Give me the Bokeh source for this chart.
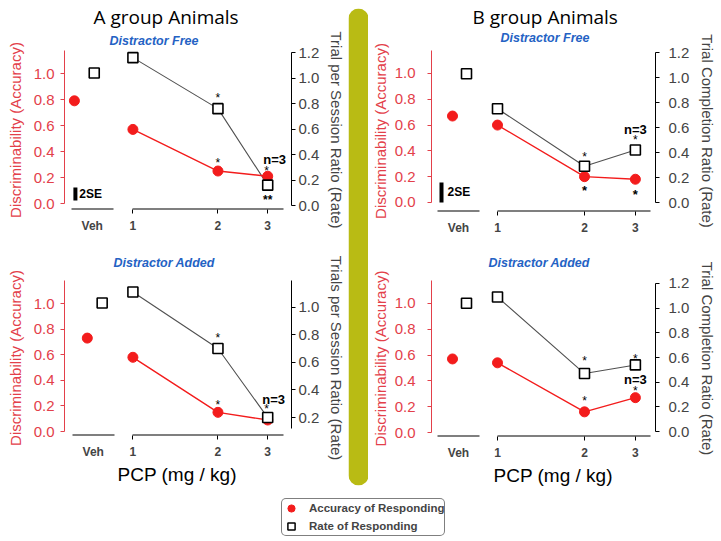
from bokeh.plotting import figure
from bokeh.models import (Range1d, LinearAxis, LogAxis, LogScale, FixedTicker, PrintfTickFormatter,
                          ColumnDataSource, Legend, LegendItem, BoxAnnotation, Title, Grid)
from bokeh.transform import dodge
from bokeh.layouts import row, column
from bokeh.embed import file_html
from bokeh.resources import INLINE
from bokeh.core.properties import value

# ---------------- data ----------------
doses = [1, 2, 3]                      # PCP (mg / kg)
veh_x = [0]                            # vehicle group on its own short axis
veh_label = "Veh"
acc_ticks = [0.0, 0.2, 0.4, 0.6, 0.8, 1.0]
rate_ticks = [0.0, 0.2, 0.4, 0.6, 0.8, 1.0, 1.2]
rate_ticks_from02 = [0.2, 0.4, 0.6, 0.8, 1.0, 1.2]

# A group, Distractor Free
a_free_acc_veh = 0.79
a_free_rate_veh = 1.04
a_free_acc = [0.57, 0.25, 0.21]
a_free_rate = [1.16, 0.76, 0.16]
# A group, Distractor Added
a_added_acc_veh = 0.73
a_added_rate_veh = 1.03
a_added_acc = [0.58, 0.15, 0.09]
a_added_rate = [1.11, 0.70, 0.20]
# B group, Distractor Free
b_free_acc_veh = 0.67
b_free_rate_veh = 1.03
b_free_acc = [0.60, 0.20, 0.18]
b_free_rate = [0.75, 0.29, 0.42]
# B group, Distractor Added
b_added_acc_veh = 0.57
b_added_rate_veh = 1.04
b_added_acc = [0.54, 0.16, 0.27]
b_added_rate = [1.09, 0.47, 0.54]

# 2SE scale bars (accuracy units)
se2_a = 0.10
se2_b = 0.155

# significance / n annotations: (series, dose index, text)
a_free_marks = [("rate", 1, "*"), ("acc", 1, "*"), ("acc", 2, "n=3"), ("acc", 2, "*"), ("rate", 2, "**")]
b_free_marks = [("rate", 1, "*"), ("acc", 1, "*"), ("acc", 2, "*"), ("rate", 2, "n=3"), ("rate", 2, "*")]
a_added_marks = [("rate", 1, "*"), ("acc", 1, "*"), ("rate", 2, "n=3"), ("rate", 2, "*")]
b_added_marks = [("rate", 1, "*"), ("acc", 1, "*"), ("rate", 2, "*"), ("acc", 2, "n=3"), ("acc", 2, "*")]

# ---------------- styles ----------------
FONT = "Liberation Sans"
RED_AXIS = "#e3404a"
RED_DOT = "#f31c1c"
BLUE = "#2462c4"
OLIVE = "#b9bb14"

# (dx, dy, size, weight) for each annotation above
a_free_mstyle = [(0, -11, "12px", "normal"), (0, -8, "12px", "normal"), (7, -17, "13px", "bold"),
                 (-1, -5, "12px", "normal"), (0, 15, "12px", "bold")]
b_free_mstyle = [(0, -9, "12px", "normal"), (0, 14, "13px", "bold"), (0, 15, "13px", "bold"),
                 (0, -21, "13px", "bold"), (0, -10, "12px", "normal")]
a_added_mstyle = [(0, -11, "12px", "normal"), (0, -7, "12px", "normal"), (6, -18, "13px", "bold"),
                  (-1, -9, "12px", "normal")]
b_added_mstyle = [(0, -13, "12px", "normal"), (0, -11, "12px", "normal"), (0, -6, "12px", "normal"),
                  (0, -18, "13px", "bold"), (0, -7, "12px", "normal")]


def clean(p):
    p.outline_line_color = None
    p.background_fill_color = "white"
    p.border_fill_color = "white"
    for r in p.center:
        if isinstance(r, Grid):
            r.visible = False


def panel(cfg, acc_veh, rate_veh, acc, rate, marks, mstyle, se2=None):
    p = figure(width=cfg["w"], height=cfg["h"], x_range=Range1d(*cfg["veh_xr"]), y_range=Range1d(*cfg["acc_r"]),
               x_axis_location=None, y_axis_location=None,
               min_border_left=cfg["mbl"], min_border_right=cfg["mbr"], min_border_top=cfg["mbt"],
               min_border_bottom=cfg["mbb"], toolbar_location=None, output_backend="svg")
    clean(p)
    p.extra_y_ranges = {"rate": Range1d(*cfg["rate_r"])}
    p.extra_x_ranges = {"dose": Range1d(*cfg["dose_r"])}
    p.extra_x_scales = {"dose": LogScale()}

    # left axis: accuracy
    ya = LinearAxis()
    ya.ticker = FixedTicker(ticks=acc_ticks, minor_ticks=[])
    ya.formatter = PrintfTickFormatter(format="%.1f")
    ya.bounds = (0, cfg["acc_r"][1])
    ya.axis_line_color = RED_AXIS
    ya.major_tick_line_color = RED_AXIS
    ya.minor_tick_line_color = None
    ya.major_tick_out = 4
    ya.major_tick_in = 0
    ya.major_label_text_color = RED_AXIS
    ya.major_label_text_font = FONT
    ya.major_label_text_font_size = "15px"
    ya.major_label_standoff = cfg["lts"]
    ya.axis_label = "Discriminability (Accuracy)"
    ya.axis_label_text_color = RED_AXIS
    ya.axis_label_text_font = FONT
    ya.axis_label_text_font_size = "15px"
    ya.axis_label_text_font_style = "normal"
    ya.axis_label_standoff = cfg["lls"]
    p.add_layout(ya, "left")

    # right axis: rate
    ra = LinearAxis(y_range_name="rate")
    ra.ticker = FixedTicker(ticks=cfg["rate_ticks"], minor_ticks=[])
    ra.formatter = PrintfTickFormatter(format="%.1f")
    ra.bounds = cfg["rate_bounds"]
    ra.major_tick_out = 4
    ra.major_tick_in = 0
    ra.minor_tick_line_color = None
    ra.major_label_text_font = FONT
    ra.major_label_text_font_size = "15px"
    ra.major_label_standoff = cfg["rts"]
    ra.axis_label = cfg["rlabel"]
    ra.axis_label_text_font = FONT
    ra.axis_label_text_font_size = "15px"
    ra.axis_label_text_font_style = "normal"
    ra.axis_label_standoff = cfg["rls"]
    p.add_layout(ra, "right")

    # bottom: tick labels (Veh, 1, 2, 3) on the log dose scale; no rule of its own
    r0, r1 = cfg["veh_xr"]
    d0, d1 = cfg["dose_r"]
    veh_pos = d0 * (d1 / d0) ** ((veh_x[0] - r0) / (r1 - r0))
    lab = LogAxis(x_range_name="dose")
    lab.ticker = FixedTicker(ticks=[veh_pos] + doses, minor_ticks=doses)
    lab.formatter = PrintfTickFormatter(format="%d")
    lab.major_label_overrides = {veh_pos: veh_label}
    lab.axis_line_color = None
    lab.major_tick_line_color = None
    lab.major_tick_out = 0
    lab.major_tick_in = 0
    lab.minor_tick_line_color = "black"
    lab.minor_tick_out = 4
    lab.minor_tick_in = 0
    lab.major_label_text_font = FONT
    lab.major_label_text_font_size = "12px"
    lab.major_label_text_font_style = "bold"
    lab.major_label_standoff = 5
    p.add_layout(lab, "below")

    # the two separate rules: short vehicle rule and dose rule
    vr = LinearAxis(fixed_location=cfg["acc_r"][0], ticker=FixedTicker(ticks=[], minor_ticks=[]))
    vr.bounds = cfg["veh_bounds"]
    vr.axis_line_width = 2
    vr.major_tick_line_color = None
    vr.minor_tick_line_color = None
    p.add_layout(vr, "below")
    dr = LogAxis(x_range_name="dose", fixed_location=cfg["acc_r"][0],
                 ticker=FixedTicker(ticks=[], minor_ticks=[]))
    dr.bounds = cfg["dose_bounds"]
    dr.axis_line_width = 2
    dr.major_tick_line_color = None
    dr.minor_tick_line_color = None
    p.add_layout(dr, "below")

    # titles
    if cfg.get("group"):
        p.add_layout(Title(text=cfg["sub"], align="left", offset=cfg["sub_off"], standoff=cfg["sub_so"],
                           text_font=FONT, text_font_size="12.5px", text_font_style="bold italic",
                           text_color=BLUE), "above")
        p.title.text = cfg["group"]
        p.title.text_font = "Open Sans"
        p.title.text_font_size = "19px"
        p.title.text_font_style = "normal"
        p.title.text_color = "black"
        p.title.align = "left"
        p.title.offset = cfg["grp_off"]
        p.title.standoff = cfg["grp_so"]
    else:
        p.title.text = cfg["sub"]
        p.title.text_font = FONT
        p.title.text_font_size = "12.5px"
        p.title.text_font_style = "bold italic"
        p.title.text_color = BLUE
        p.title.align = "left"
        p.title.vertical_align = "top"
        p.title.offset = cfg["sub_off"]
        p.title.standoff = cfg["sub_so"]
    if cfg.get("xlabel"):
        p.add_layout(Title(text=cfg["xlabel"], align="left", offset=cfg["xl_off"], standoff=cfg["xl_so"],
                           text_font=FONT, text_font_size="19px", text_font_style="normal",
                           text_color="black"), "below")

    # vehicle points
    vsrc = ColumnDataSource(dict(x=veh_x, acc=[acc_veh], rate=[rate_veh]))
    p.scatter(x=dodge("x", cfg["dot_dx"]), y="acc", source=vsrc, marker="circle", size=10,
              fill_color=RED_DOT, line_color=RED_DOT)
    p.scatter(x=dodge("x", cfg["sq_dx"]), y="rate", y_range_name="rate", source=vsrc, marker="square",
              size=10, fill_color="white", line_color="black", line_width=1.6)
    if se2 is not None:
        base = cfg["se_base"]
        ssrc = ColumnDataSource(dict(x=veh_x, b0=[base], b1=[base + se2], mid=[base + se2 / 2], t=["2SE"]))
        p.segment(x0=dodge("x", cfg["se_dx"]), y0="b0", x1=dodge("x", cfg["se_dx"]), y1="b1", source=ssrc,
                  line_color="black", line_width=4)
        p.text(x=dodge("x", cfg["se_tdx"]), y="mid", text="t", source=ssrc, text_align="left",
               text_baseline="middle", text_font=value(FONT), text_font_size="12px",
               text_font_style="bold", text_color="black")

    # dose-response series
    p.line(doses, rate, x_range_name="dose", y_range_name="rate", line_color="#505050", line_width=1.1)
    p.line(doses, acc, x_range_name="dose", line_color=RED_DOT, line_width=1.4)
    p.scatter(doses, acc, x_range_name="dose", marker="circle", size=10, fill_color=RED_DOT, line_color=RED_DOT)
    p.scatter(doses, rate, x_range_name="dose", y_range_name="rate", marker="square", size=10,
              fill_color="white", line_color="black", line_width=1.6)

    series = {"acc": acc, "rate": rate}
    for name in ("acc", "rate"):
        d = dict(x=[], y=[], t=[], xo=[], yo=[], fs=[], fw=[])
        for (s, i, t), (ox, oy, fs, fw) in zip(marks, mstyle):
            if s != name:
                continue
            d["x"].append(doses[i]); d["y"].append(series[s][i]); d["t"].append(t)
            d["xo"].append(ox); d["yo"].append(oy); d["fs"].append(fs); d["fw"].append(fw)
        if not d["x"]:
            continue
        kw = {"x_range_name": "dose"}
        if name == "rate":
            kw["y_range_name"] = "rate"
        p.text(x="x", y="y", text="t", x_offset="xo", y_offset="yo", source=ColumnDataSource(d),
               text_align="center", text_baseline="middle", text_font=value(FONT),
               text_font_size="fs", text_font_style="fw", text_color="black", **kw)
    return p


A = dict(w=348, mbl=64, mbr=55, veh_bounds=(-21, 21), dose_r=(0.5726, 3.642), dose_bounds=(1, 3.415),
         lts=6, lls=7, rts=3, rls=6)
B = dict(w=353, mbl=63, mbr=66, veh_bounds=(-21, 21), dose_r=(0.5910, 3.5215), dose_bounds=(1, 3.383),
         lts=12, lls=3, rts=9, rls=7)
TOP = dict(h=244, mbt=50, sub="Distractor Free")
BOT = dict(h=243, mbt=36, sub="Distractor Added", xlabel="PCP (mg / kg)", xl_so=0, sub_so=18)

cA1 = dict(A, **TOP, mbb=35, acc_r=(-0.046, 1.177), rate_r=(-0.031, 1.216), veh_xr=(-28, 201),
           dot_dx=-18, sq_dx=2, rate_ticks=rate_ticks, rate_bounds=(0, 1.2),
           rlabel="Trial per Session Ratio (Rate)",
           se_base=0.023, se_dx=-17, se_tdx=-13,
           sub_off=45, sub_so=6, group="A group Animals", grp_off=29, grp_so=-2)
cA2 = dict(A, **BOT, mbb=52, acc_r=(-0.031, 1.18), rate_r=(0.07, 1.193), veh_xr=(-29, 200),
           dot_dx=-6, sq_dx=9, rate_ticks=rate_ticks_from02, rate_bounds=(0.12, 1.2),
           rlabel="Trials per Session Ratio (Rate)", xl_off=53, sub_off=49)
cB1 = dict(B, **TOP, mbb=33, acc_r=(-0.07, 1.178), rate_r=(-0.072, 1.216), veh_xr=(-27, 197),
           dot_dx=-6, sq_dx=8, rate_ticks=rate_ticks, rate_bounds=(0, 1.2),
           rlabel="Trial Completion Ratio (Rate)",
           se_base=0.0, se_dx=-17, se_tdx=-11,
           sub_off=69, sub_so=12, group="B group Animals", grp_off=41, grp_so=-14)
cB2 = dict(B, **BOT, mbb=51, acc_r=(-0.031, 1.178), rate_r=(-0.04, 1.224), veh_xr=(-27, 197),
           dot_dx=-6, sq_dx=8, rate_ticks=rate_ticks, rate_bounds=(0, 1.2),
           rlabel="Trial Completion Ratio (Rate)", xl_off=62, sub_off=57)

pA1 = panel(cA1, a_free_acc_veh, a_free_rate_veh, a_free_acc, a_free_rate, a_free_marks, a_free_mstyle, se2_a)
pA2 = panel(cA2, a_added_acc_veh, a_added_rate_veh, a_added_acc, a_added_rate, a_added_marks, a_added_mstyle)
pB1 = panel(cB1, b_free_acc_veh, b_free_rate_veh, b_free_acc, b_free_rate, b_free_marks, b_free_mstyle, se2_b)
pB2 = panel(cB2, b_added_acc_veh, b_added_rate_veh, b_added_acc, b_added_rate, b_added_marks, b_added_mstyle)

# divider bar
g = figure(width=20, height=487, x_range=Range1d(0, 1), y_range=Range1d(0, 1), title=None,
           min_border_left=0, min_border_right=0, min_border_top=8, min_border_bottom=2,
           x_axis_location=None, y_axis_location=None, toolbar_location=None, output_backend="svg")
clean(g)
box_kw = dict(fill_color=OLIVE, fill_alpha=1.0, line_color=None)
if "border_radius" in BoxAnnotation.properties():
    box_kw["border_radius"] = 10
g.add_layout(BoxAnnotation(**box_kw))

# legend
nan = float("nan")
lf = figure(width=721, height=53, x_range=Range1d(0, 1), y_range=Range1d(0, 1), title=None, min_border=0,
            x_axis_location=None, y_axis_location=None, toolbar_location=None, output_backend="svg")
clean(lf)
r1 = lf.scatter(x=[nan], y=[nan], marker="circle", size=8, fill_color=RED_DOT, line_color=RED_DOT)
r2 = lf.scatter(x=[nan], y=[nan], marker="square", size=8, fill_color="white", line_color="black",
                line_width=1.5)
leg_kw = dict(items=[LegendItem(label="Accuracy of Responding", renderers=[r1]),
                     LegendItem(label="Rate of Responding", renderers=[r2])],
              location=(281, 4), orientation="vertical", glyph_width=18, glyph_height=18,
              label_height=18, spacing=-6, padding=0, margin=0, label_standoff=9,
              label_text_font=FONT, label_text_font_size="11.5px", label_text_font_style="bold",
              border_line_color="black", border_line_width=1.5, background_fill_alpha=1.0)
if "border_radius" in Legend.properties():
    leg_kw["border_radius"] = 5
lf.add_layout(Legend(**leg_kw))

layout = column(row(column(pA1, pA2), g, column(pB1, pB2)), lf)

open("out.html", "w").write(file_html(layout, INLINE))
